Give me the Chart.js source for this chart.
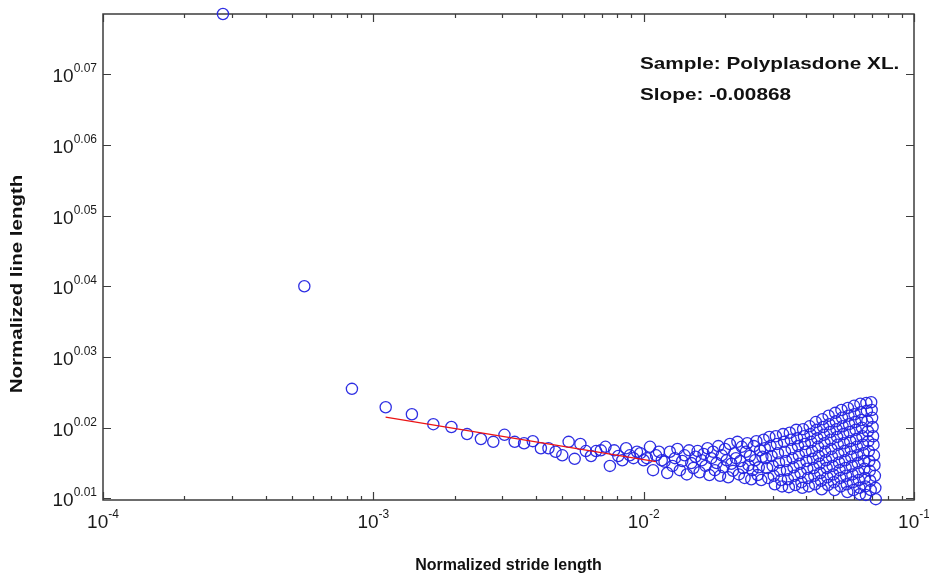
<!DOCTYPE html>
<html>
<head>
<meta charset="utf-8">
<script src="https://cdn.jsdelivr.net/npm/chart.js@4.4.1/dist/chart.umd.min.js"></script>
<style>
  html, body { margin: 0; padding: 0; background: #fff; }
  #wrap { width: 929px; height: 582px; position: relative; }
</style>
</head>
<body>
<div id="wrap"><canvas id="strideChart"></canvas></div>
<script>
/* Line length vs stride length (log-log) */

// stride n is n * strideStep (normalized)
const strideStep = 1 / 3600;

// log10 of normalized line length, one value per stride n = 1, 2, 3 ...
const lineLength = [
  0.0785, 0.0400, 0.0255, 0.0229, 0.0219, 0.0205, 0.0201, 0.0191, 0.0184, 0.0180,
  0.0190, 0.0180, 0.0178, 0.0181, 0.0171, 0.0171, 0.0166, 0.0161, 0.0180, 0.0156,
  0.0177, 0.0167, 0.0160, 0.0167, 0.0168, 0.0173, 0.0146, 0.0168, 0.0160, 0.0154,
  0.0171, 0.0161, 0.0157, 0.0166, 0.0164, 0.0154, 0.0157, 0.0173, 0.0140, 0.0161,
  0.0166, 0.0154, 0.0152, 0.0136,
  0.0166, 0.0146, 0.0157, 0.0170, 0.0140, 0.0153, 0.0161, 0.0134, 0.0168, 0.0150,
  0.0143, 0.0159, 0.0167, 0.0137, 0.0154, 0.0163,
  0.0146, 0.0171, 0.0133, 0.0157, 0.0166, 0.0140, 0.0150, 0.0174, 0.0132, 0.0161,
  0.0144, 0.0170, 0.0154, 0.0130, 0.0177, 0.0149, 0.0139, 0.0164, 0.0157, 0.0180,
  0.0134, 0.0153, 0.0173, 0.0143, 0.0129, 0.0166, 0.0178, 0.0147, 0.0160, 0.0127,
  0.0140, 0.0174, 0.0154, 0.0181, 0.0133, 0.0144, 0.0168, 0.0126, 0.0159, 0.0183,
  0.0171, 0.0157, 0.0143, 0.0129, 0.0187, 0.0174, 0.0160, 0.0146, 0.0132, 0.0120,
  0.0188, 0.0177, 0.0164, 0.0151, 0.0139, 0.0126, 0.0117, 0.0191, 0.0180, 0.0166,
  0.0153, 0.0140, 0.0127, 0.0116, 0.0193, 0.0183, 0.0170, 0.0157, 0.0144, 0.0132,
  0.0119, 0.0197, 0.0185, 0.0174, 0.0161, 0.0149, 0.0136, 0.0123, 0.0115, 0.0198,
  0.0188, 0.0177, 0.0166, 0.0153, 0.0142, 0.0129, 0.0117, 0.0202, 0.0191, 0.0180,
  0.0167, 0.0156, 0.0143, 0.0132, 0.0120, 0.0208, 0.0197, 0.0185, 0.0173, 0.0160,
  0.0149, 0.0136, 0.0125, 0.0113, 0.0212, 0.0201, 0.0190, 0.0178, 0.0166, 0.0154,
  0.0143, 0.0130, 0.0119, 0.0217, 0.0205, 0.0194, 0.0183, 0.0170, 0.0159, 0.0146,
  0.0134, 0.0123, 0.0112, 0.0221, 0.0209, 0.0198, 0.0187, 0.0176, 0.0163, 0.0151,
  0.0140, 0.0129, 0.0117, 0.0225, 0.0214, 0.0202, 0.0191, 0.0178, 0.0167, 0.0154,
  0.0143, 0.0132, 0.0120, 0.0109, 0.0228, 0.0217, 0.0205, 0.0194, 0.0181, 0.0170,
  0.0159, 0.0146, 0.0134, 0.0123, 0.0112, 0.0231, 0.0219, 0.0208, 0.0197, 0.0184,
  0.0173, 0.0161, 0.0150, 0.0137, 0.0126, 0.0115, 0.0106, 0.0234, 0.0222, 0.0211,
  0.0200, 0.0188, 0.0176, 0.0164, 0.0153, 0.0142, 0.0129, 0.0117, 0.0105, 0.0235,
  0.0224, 0.0209, 0.0195, 0.0181, 0.0167, 0.0153, 0.0139, 0.0125, 0.0112, 0.0236,
  0.0225, 0.0214, 0.0201, 0.0188, 0.0176, 0.0161, 0.0147, 0.0132, 0.0115, 0.0099
];

// fitted line (red)
const fitX = [0.00111, 0.0111];
const fitY = [0.0215, 0.0152];

// axis ticks
const xTickValues = [1e-4, 1e-3, 1e-2, 1e-1];
const xTickLabels = ['-4', '-3', '-2', '-1'];
const yTickValues = [0.01, 0.02, 0.03, 0.04, 0.05, 0.06, 0.07];
const yTickLabels = ['0.01', '0.02', '0.03', '0.04', '0.05', '0.06', '0.07'];

const annotation = ['Sample: Polyplasdone XL.', 'Slope: -0.00868'];

const points = lineLength.map((v, i) => ({ x: (i + 1) * strideStep, y: v }));
const fitPoints = fitX.map((x, i) => ({ x: x, y: fitY[i] }));

const FONT = '"Liberation Sans", Arial, sans-serif';

// frame, inward ticks, superscript tick labels, titles
const framePlugin = {
  id: 'framePlugin',
  beforeDatasetsDraw(chart) {
    const c = chart.ctx;
    const { left, right, top, bottom } = chart.chartArea;
    const xs = chart.scales.x, ys = chart.scales.y;
    c.save();
    c.strokeStyle = '#3c3c3c';
    c.lineWidth = 1.5;
    c.strokeRect(left, top, right - left, bottom - top);

    c.lineWidth = 1.2;
    c.beginPath();
    xTickValues.forEach((v, i) => {
      const px = Math.round(xs.getPixelForValue(v)) + 0.5;
      c.moveTo(px, bottom); c.lineTo(px, bottom - 8);
      c.moveTo(px, top); c.lineTo(px, top + 8);
      if (i < xTickValues.length - 1) {
        for (let m = 2; m <= 9; m++) {
          const mx = Math.round(xs.getPixelForValue(v * m)) + 0.5;
          c.moveTo(mx, bottom); c.lineTo(mx, bottom - 4);
          c.moveTo(mx, top); c.lineTo(mx, top + 4);
        }
      }
    });
    yTickValues.forEach(v => {
      const py = Math.round(ys.getPixelForValue(v)) + 0.5;
      c.moveTo(left, py); c.lineTo(left + 8, py);
      c.moveTo(right, py); c.lineTo(right - 8, py);
    });
    c.stroke();
    c.restore();
  },
  afterDraw(chart) {
    const c = chart.ctx;
    const { left, right, top, bottom } = chart.chartArea;
    const xs = chart.scales.x, ys = chart.scales.y;
    c.save();
    c.fillStyle = '#1a1a1a';
    c.textAlign = 'left';
    c.textBaseline = 'alphabetic';

    // x tick labels: 10^n
    xTickValues.forEach((v, i) => {
      const px = xs.getPixelForValue(v);
      c.font = '19px ' + FONT;
      const w1 = c.measureText('10').width;
      c.font = '12px ' + FONT;
      const w2 = c.measureText(xTickLabels[i]).width;
      const x0 = px - (w1 + w2) / 2;
      c.font = '19px ' + FONT;
      c.fillText('10', x0, bottom + 28);
      c.font = '12px ' + FONT;
      c.fillText(xTickLabels[i], x0 + w1, bottom + 18);
    });

    // y tick labels: 10^0.0n
    yTickValues.forEach((v, i) => {
      const py = ys.getPixelForValue(v);
      c.font = '12px ' + FONT;
      const w2 = c.measureText(yTickLabels[i]).width;
      c.textAlign = 'right';
      c.fillText(yTickLabels[i], left - 6, py - 2);
      c.font = '19px ' + FONT;
      c.fillText('10', left - 6 - w2, py + 8);
    });

    // axis titles
    c.fillStyle = '#111';
    c.font = 'bold 16px ' + FONT;
    c.textAlign = 'center';
    c.textBaseline = 'middle';
    c.fillText('Normalized stride length', (left + right) / 2, 566);
    c.save();
    c.translate(18, 284);
    c.rotate(-Math.PI / 2);
    c.scale(1.28, 1);
    c.fillText('Normalized line length', 0, 0);
    c.restore();

    // annotation (text in the figure is drawn wide)
    c.textAlign = 'left';
    c.textBaseline = 'alphabetic';
    c.font = 'bold 17px ' + FONT;
    c.save();
    c.translate(640, 0);
    c.scale(1.22, 1);
    c.fillText(annotation[0], 0, 69);
    c.fillText(annotation[1], 0, 100);
    c.restore();
    c.restore();
  }
};

new Chart(document.getElementById('strideChart'), {
  type: 'scatter',
  data: {
    datasets: [
      {
        label: 'Fit',
        data: fitPoints,
        showLine: true,
        borderColor: 'rgba(235, 20, 20, 1)',
        borderWidth: 1.2,
        pointRadius: 0,
        order: 0
      },
      {
        label: 'Line length',
        data: points,
        pointStyle: 'circle',
        pointRadius: 5.6,
        borderColor: 'rgba(35, 35, 225, 0.95)',
        backgroundColor: 'rgba(0, 0, 0, 0)',
        borderWidth: 1.3,
        clip: false,
        order: 1
      }
    ]
  },
  options: {
    responsive: true,
    maintainAspectRatio: false,
    animation: false,
    devicePixelRatio: 1,
    layout: { padding: { left: 103, right: 15, top: 14, bottom: 82 } },
    plugins: {
      legend: { display: false },
      tooltip: { enabled: false }
    },
    scales: {
      x: { type: 'logarithmic', min: 1e-4, max: 1e-1, display: false },
      y: { type: 'linear', min: 0.00978, max: 0.0785, display: false }
    }
  },
  plugins: [framePlugin]
});
</script>
</body>
</html>
